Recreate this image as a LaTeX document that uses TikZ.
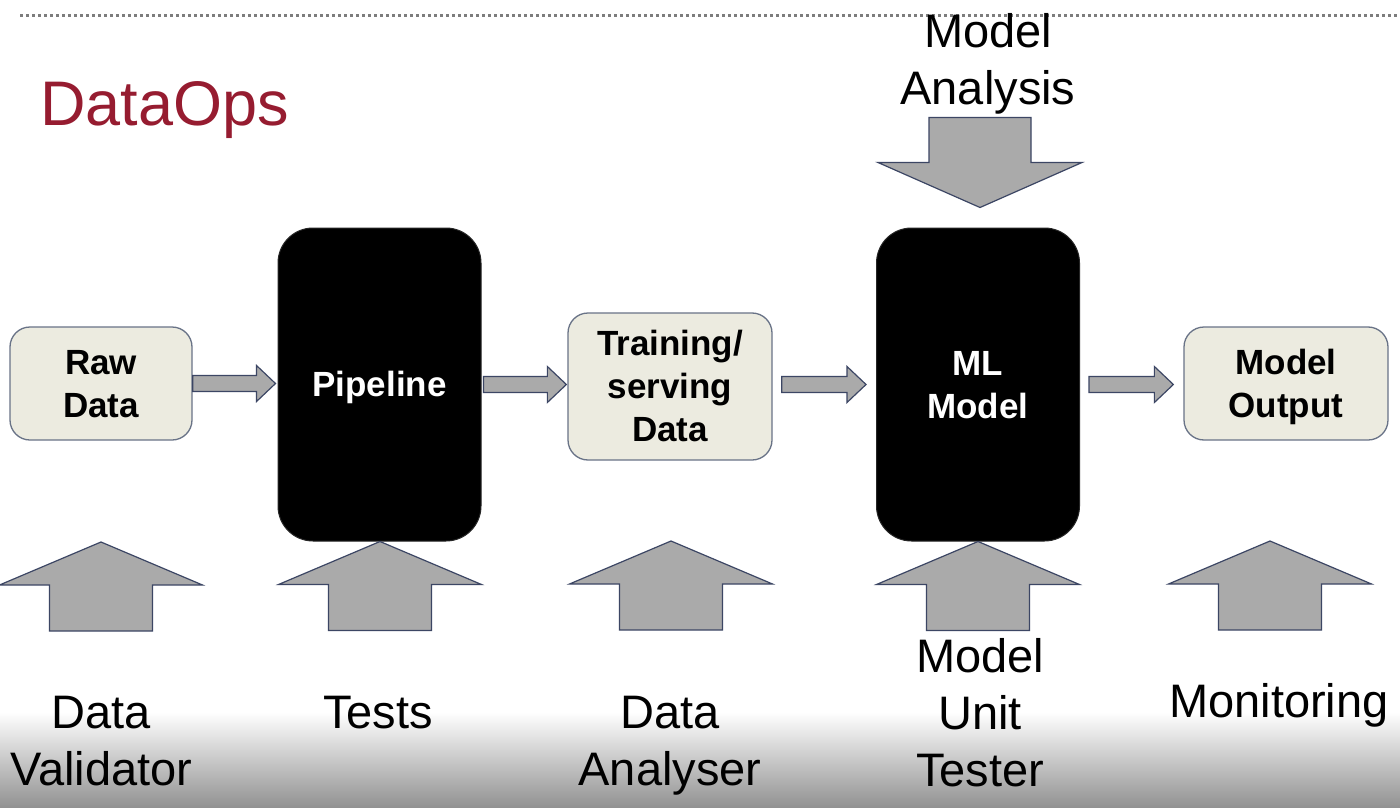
\documentclass[tikz,border=0pt]{standalone}
\usepackage{fontspec}
\setmainfont{Liberation Sans}
\usetikzlibrary{calc}
\definecolor{boxfill}{RGB}{236,235,224}
\definecolor{boxline}{RGB}{105,115,135}
\definecolor{arrfill}{RGB}{170,170,170}
\definecolor{arrline}{RGB}{60,70,100}
\definecolor{titlered}{RGB}{150,28,48}
\definecolor{dotgray}{RGB}{125,125,125}
\definecolor{shadebot}{RGB}{145,145,145}
\definecolor{shademid}{RGB}{222,222,222}
\newcommand\cstrut{\vrule width 0pt height \dimexpr(\baselineskip+\fontcharht\font`H)/2-0.5pt\relax depth \dimexpr(\baselineskip-\fontcharht\font`H)/2-0.5pt\relax}
\newcommand\blkharrow[2]{%
  \path (#1) coordinate (hs) (#2) coordinate (he);
  \draw[blockarrow] ($(hs |- he)+(0,-8)$) -- ($(he)+(-19,-8)$) -- ($(he)+(-19,-18)$) -- (he)
    -- ($(he)+(-19,18)$) -- ($(he)+(-19,8)$) -- ($(hs |- he)+(0,8)$) -- cycle;}
\newcommand\blkuparrow[1]{%
  \path (#1) coordinate (ua);
  \draw[blockarrow] (ua) -- ++(101.5,43) -- ++(-50,0) -- ++(0,46) -- ++(-103,0) -- ++(0,-46) -- ++(-50,0) -- cycle;}
\newcommand\blkdownarrow[1]{%
  \path (#1) coordinate (da);
  \draw[blockarrow] (da) -- ++(102,-45) -- ++(-51,0) -- ++(0,-45) -- ++(-102,0) -- ++(0,45) -- ++(-51,0) -- cycle;}
\begin{document}
\begin{tikzpicture}[x=1pt,y=-1pt,
  lightbox/.style={draw=boxline, line width=1.3pt, fill=boxfill, rounded corners=20pt, inner sep=0pt,
    font=\bfseries\fontsize{35}{43}\selectfont, align=center, text=black},
  darkbox/.style={draw=black!85, line width=1pt, fill=black, rounded corners=35pt, inner sep=0pt,
    minimum width=203pt, minimum height=313pt, text=white,
    font=\bfseries\fontsize{35}{43}\selectfont, align=center},
  lbl/.style={font=\fontsize{47}{57}\selectfont, align=center, inner sep=0pt, text=black},
  blockarrow/.style={fill=arrfill, draw=arrline, line width=1.2pt, line join=miter}]
\useasboundingbox (0,0) rectangle (1400,808);
\fill[white] (0,0) rectangle (1400,808);
\shade[top color=white, middle color=shademid, bottom color=shadebot] (0,712) rectangle (1400,808);
\draw[dotgray, line width=2.4pt, dash pattern=on 3pt off 3pt] (20,15.5) -- (1400,15.5);

\node[font=\fontsize{63}{75}\selectfont, text=titlered, anchor=west, inner sep=0pt] (title) at (40,104) {\cstrut DataOps};

\node[lightbox, minimum width=182pt, minimum height=113pt] (raw) at (101,383.5) {\cstrut Raw\\\cstrut Data};
\node[darkbox] (pipe) at (379.5,384.5) {\cstrut Pipeline};
\node[lightbox, minimum width=204pt, minimum height=147pt] (train) at (670,386.5) {\cstrut Training/\\\cstrut serving\\\cstrut Data};
\node[darkbox] (ml) at (978,384.5) {\cstrut ML\\\cstrut Model};
\node[lightbox, minimum width=204pt, minimum height=113pt] (out) at (1286,383.5) {\cstrut Model\\\cstrut Output};

\blkharrow{raw.east}{$(pipe.west |- raw.east)+(-2,0)$}
\blkharrow{$(pipe.east)+(2,0)$}{$(train.west |- pipe.east)+(-1,0)$}
\blkharrow{$(train.east |- ml.west)+(9,0)$}{$(ml.west)+(-10,0)$}
\blkharrow{$(ml.east)+(9,0)$}{$(out.west |- ml.east)+(-10,0)$}

\coordinate (a1) at (101,542);
\coordinate (a3) at (671,541);
\coordinate (a5) at (1270,541);
\blkuparrow{a1}
\blkuparrow{$(pipe.south)+(0.5,0)$}
\blkuparrow{a3}
\blkuparrow{ml.south}
\blkuparrow{a5}
\blkdownarrow{$(ml.north)+(2,-20)$}

\node[lbl] (lana) at (988,60) {\cstrut Model\\\cstrut Analysis};
\node[lbl] (lval) at (101.5,740.5) {\cstrut Data\\\cstrut Validator};
\node[lbl] (ltest) at (378,712) {\cstrut Tests};
\node[lbl] (lanl) at (670,740.5) {\cstrut Data\\\cstrut Analyser};
\node[lbl] (lunit) at (980,713) {\cstrut Model\\\cstrut Unit\\\cstrut Tester};
\node[lbl] (lmon) at (1279,701) {\cstrut Monitoring};
\end{tikzpicture}
\end{document}
